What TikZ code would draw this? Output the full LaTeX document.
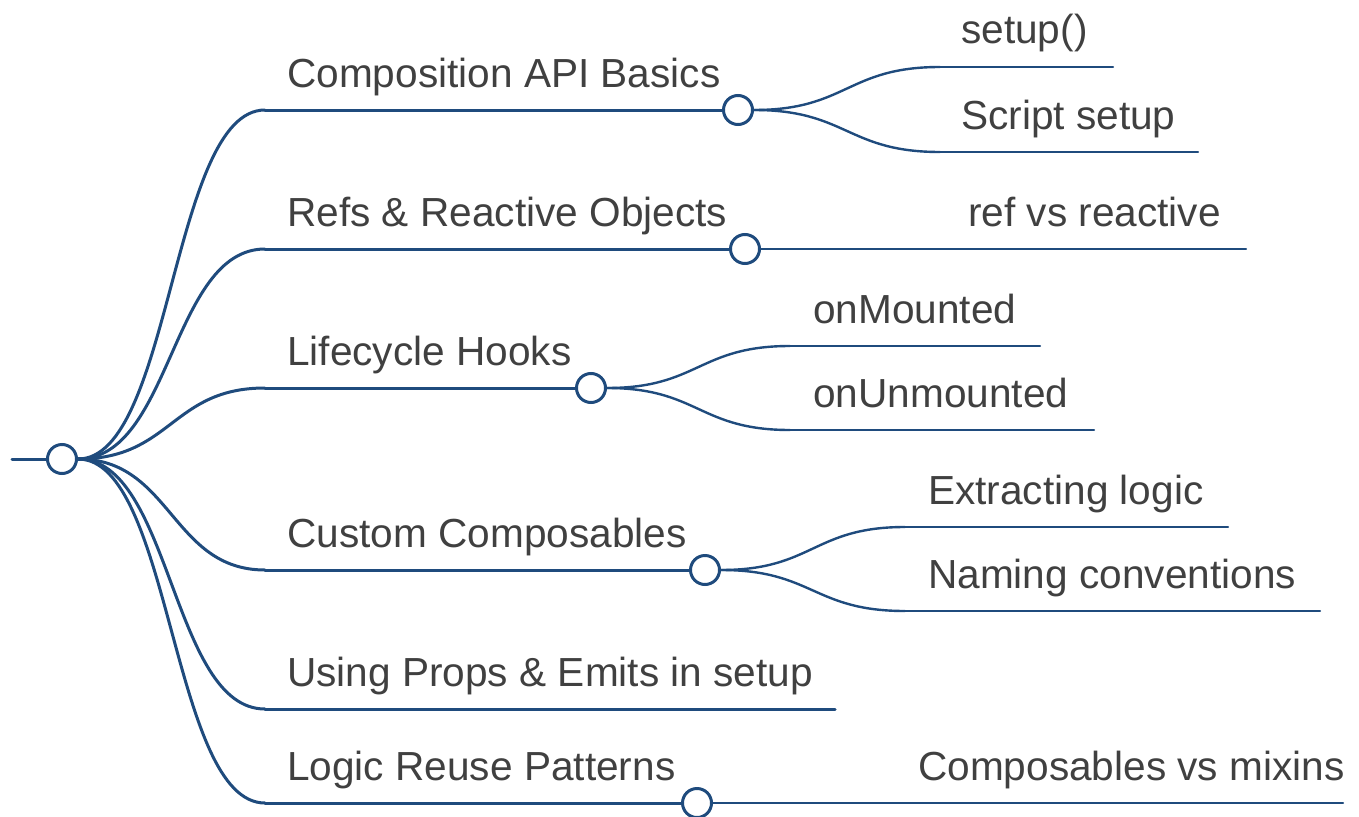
\documentclass[tikz,border=0pt]{standalone}
\usepackage{fontspec}
\setmainfont{Liberation Sans}
\usetikzlibrary{calc}
\definecolor{edge}{HTML}{1F4B7D}
\definecolor{label}{HTML}{404040}
\tikzset{
  link/.style={to path={let \p1=(\tikztostart), \p2=(\tikztotarget) in
      .. controls ({(\x1+\x2)/2},\y1) and ({(\x1+\x2)/2},\y2) .. (\tikztotarget)}},
  hub/.style={circle, draw=edge, line width=3pt, fill=white, minimum size=29pt, inner sep=0pt},
  lvlone/.style={draw=edge, line width=3pt},
  lvltwo/.style={draw=edge, line width=2.4pt},
  txt/.style={anchor=base west, inner sep=0pt, text=label, font=\fontsize{40.6}{48}\selectfont},
}
\begin{document}
\begin{tikzpicture}[x=1pt, y=-1pt, line cap=round]
\useasboundingbox (0,0) rectangle (1359,816);

% root
\coordinate (rin) at (12,459);
\node[hub] (root) at (62,459) {};

% first level: line start, hub / line end, label
\coordinate (a0) at (265,110);  \coordinate (b0) at (265,249);
\coordinate (c0) at (265,388);  \coordinate (d0) at (265,570);
\coordinate (e0) at (265,709);  \coordinate (f0) at (265,803);
\coordinate (e1) at (835,709);

\draw[lvlone] (root.east) to[link] (a0);
\draw[lvlone] (root.east) to[link] (b0);
\draw[lvlone] (root.east) to[link] (c0);
\draw[lvlone] (root.east) to[link] (d0);
\draw[lvlone] (root.east) to[link] (e0);
\draw[lvlone] (root.east) to[link] (f0);
\draw[lvlone] (rin) -- (root.west);

\node[txt] (ta) at (287,87)  {Composition API Basics};
\node[txt] (tb) at (287,226) {Refs \& Reactive Objects};
\node[txt] (tc) at (287,365) {Lifecycle Hooks};
\node[txt] (td) at (287,547) {Custom Composables};
\node[txt] (te) at (287,686) {Using Props \& Emits in setup};
\node[txt] (tf) at (287,780) {Logic Reuse Patterns};

% second level: line start and end
\coordinate (a1s) at (940,67);   \coordinate (a1e) at (1113,67);
\coordinate (a2s) at (940,152);  \coordinate (a2e) at (1198,152);
\coordinate (b1s) at (946,249);  \coordinate (b1e) at (1246,249);
\coordinate (c1s) at (790,346);  \coordinate (c1e) at (1040,346);
\coordinate (c2s) at (790,430);  \coordinate (c2e) at (1094,430);
\coordinate (d1s) at (905,527);  \coordinate (d1e) at (1228,527);
\coordinate (d2s) at (905,611);  \coordinate (d2e) at (1320,611);
\coordinate (f1s) at (897,803);  \coordinate (f1e) at (1343,803);

\draw[lvltwo] (a1s) -- (a1e);  \draw[lvltwo] (a2s) -- (a2e);
\draw[lvltwo] (b1s) -- (b1e);
\draw[lvltwo] (c1s) -- (c1e);  \draw[lvltwo] (c2s) -- (c2e);
\draw[lvltwo] (d1s) -- (d1e);  \draw[lvltwo] (d2s) -- (d2e);
\draw[lvltwo] (f1s) -- (f1e);

% underlines of the first level, ending at their hubs
\draw[lvlone] (a0) -- (738,110);
\draw[lvlone] (b0) -- (745,249);
\draw[lvlone] (c0) -- (591,388);
\draw[lvlone] (d0) -- (705,570);
\draw[lvlone] (e0) -- (e1);
\draw[lvlone] (f0) -- (697,803);

\node[hub] (ha) at (738,110) {};
\node[hub] (hb) at (745,249) {};
\node[hub] (hc) at (591,388) {};
\node[hub] (hd) at (705,570) {};
\node[hub] (hf) at (697,803) {};

\draw[lvltwo] (ha.east) to[link] (a1s);
\draw[lvltwo] (ha.east) to[link] (a2s);
\draw[lvltwo] (hb.east) -- (b1s);
\draw[lvltwo] (hc.east) to[link] (c1s);
\draw[lvltwo] (hc.east) to[link] (c2s);
\draw[lvltwo] (hd.east) to[link] (d1s);
\draw[lvltwo] (hd.east) to[link] (d2s);
\draw[lvltwo] (hf.east) -- (f1s);

\node[txt] (ta1) at (961,44)  {setup()};
\node[txt] (ta2) at (961,129) {Script setup};
\node[txt] (tb1) at (968,226) {ref vs reactive};
\node[txt] (tc1) at (813,323) {onMounted};
\node[txt] (tc2) at (813,407) {onUnmounted};
\node[txt] (td1) at (928,504) {Extracting logic};
\node[txt] (td2) at (928,588) {Naming conventions};
\node[txt] (tf1) at (918,780) {Composables vs mixins};
\end{tikzpicture}
\end{document}
